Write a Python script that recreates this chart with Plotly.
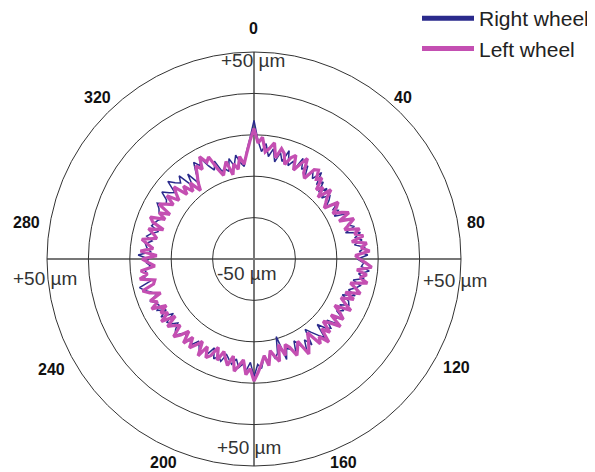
import plotly.graph_objects as go

# angles (deg, clockwise from top) every 2 degrees
theta = list(range(0, 360, 2))

# deviation in micrometres
left_wheel = [
    13, 6, 9, 2, 4, 7, 0, 5, 3, -2,
    2, 4, -3, 1, 5, -2, -4, 2, 3, -1,
    1, -5, -2, -7, 0, -4, -6, -8, -1, -3,
    -6, -2, 1, -5, 2, -1, -4, 3, 0, 4,
    -2, 5, 2, 6, -1, 1, 4, 7, 0, 5,
    2, 6, -2, 1, 4, -3, 2, -4, -1, 3,
    -5, -1, 2, -4, 3, -2, -5, 1, -3, 4,
    -1, 2, -6, -3, 0, 3, -5, -2, 1, -4,
    -6, -1, -7, 1, -2, -5, 2, -3, 1, 5,
    9, 3, 6, -1, 2, 5, -2, 3, 0, -3,
    2, -4, 1, 3, -2, 4, -3, 0, 3, -2,
    3, -3, 1, 4, -2, 0, 3, -3, 4, -1,
    2, -2, 5, 1, 4, -2, 3, 6, 0, -1,
    6, 2, 5, -2, 1, 4, -3, 5, -1, 2,
    5, -2, 0, 3, -4, 2, 4, -3, 1, -4,
    3, 0, -3, 2, -4, -1, 2, -5, -1, -6,
    -2, -8, -4, -1, 3, 0, 6, 2, 4, -3,
    -7, -4, -1, -8, -3, -6, 0, -4, 1, 7,
]

right_wheel = [
    17, 7, 2, 6, 0, 4, -2, 3, -1, 5,
    -2, 1, -3, 4, -1, 2, -4, 1, -2, 3,
    -3, 0, -5, -1, -6, -2, -4, -7, -1, -5,
    -3, -6, 0, -3, 2, -2, 1, -4, 3, 0,
    3, -1, 4, 1, 5, 0, 3, 2, 6, 1,
    4, -1, 3, 1, -2, 2, -4, 0, 1, -3,
    0, -3, 2, -2, 1, -4, 0, -2, -6, 1,
    -2, -5, -8, 0, -4, 1, -3, -6, 0, -3,
    -4, 1, -11, -3, -1, -5, 0, -3, 3, 1,
    7, 0, 4, 1, 3, -1, 2, 0, -2, 2,
    0, 2, -3, 1, -1, 3, 0, -2, 1, 0,
    2, -1, 0, 3, 1, -2, 1, 2, -3, 3,
    -1, 3, 1, 2, 4, 0, 2, 5, 7, 1,
    4, 2, 3, 0, 2, 1, 6, 0, 2, 3,
    0, 3, 1, -2, 2, 1, 0, -2, 1, 2,
    4, 0, 1, 5, 2, 0, 6, 3, 1, 4,
    -4, 2, -5, 0, 5, 2, 5, 0, -3, 1,
    -5, -4, -6, 0, -4, 1, -3, -5, 2, 8,
]

series_names = ["Right wheel", "Left wheel"]
series_colors = ["#2a2a8c", "#c44fb2"]

angle_labels = ["0", "40", "80", "120", "160", "200", "240", "280", "320"]
radial_labels = ["+50 µm", "+50 µm", "+50 µm", "+50 µm", "-50 µm"]

W, H = 595, 472
OFF = 8  # page body margin in the browser
FONT = "Liberation Sans, Arial, sans-serif"


def px(x):
    return (x - OFF) / W


def py(y):
    return 1 - (y - OFF) / H


fig = go.Figure()

# data traces (closed loops)
for name, vals, col, w in [
    (series_names[0], right_wheel, series_colors[0], 1.5),
    (series_names[1], left_wheel, series_colors[1], 3.2),
]:
    fig.add_trace(go.Scatterpolar(
        r=vals + [vals[0]], theta=theta + [360],
        mode="lines", line=dict(color=col, width=w),
        name=name, showlegend=False, hoverinfo="skip",
    ))

# legend entries with thick swatches
for name, col in zip(series_names, series_colors):
    fig.add_trace(go.Scatterpolar(
        r=[None], theta=[None], mode="lines", legendgroup=name,
        line=dict(color=col, width=5), name=name, showlegend=True,
    ))

# circle centre (254,259) px, radius 207 px (screen coordinates)
cx, cy, R = 254, 259, 207
fig.update_layout(
    width=W, height=H,
    margin=dict(l=0, r=0, t=0, b=0, autoexpand=False),
    paper_bgcolor="white", plot_bgcolor="white",
    font=dict(family=FONT, color="#222"),
    polar=dict(
        domain=dict(x=[px(cx - R), px(cx + R)],
                    y=[py(cy + R), py(cy - R)]),
        bgcolor="white",
        radialaxis=dict(range=[-50, 50], tickvals=[-30, -10, 10, 30],
                        showticklabels=False, ticks="", showline=False,
                        gridcolor="#333", gridwidth=1),
        angularaxis=dict(direction="clockwise", rotation=90,
                         tickvals=[0, 90, 180, 270], showticklabels=False,
                         ticks="", gridcolor="#777", gridwidth=1.5,
                         showline=True, linecolor="#333", linewidth=1),
    ),
    legend=dict(x=px(417), y=py(-2), xanchor="left", yanchor="top",
                font=dict(family=FONT, size=21, color="#222"),
                bgcolor="rgba(0,0,0,0)", tracegroupgap=0,
                itemwidth=52),
    showlegend=True,
)

# angle labels (bold)
angle_pos = [(253, 28), (403, 97), (476, 222), (456, 367), (343, 462),
             (163, 462), (51, 369), (26, 222), (97, 98)]
for txt, (x, y) in zip(angle_labels, angle_pos):
    fig.add_annotation(x=px(x), y=py(y), xref="paper", yref="paper",
                       xanchor="center", yanchor="middle",
                       text="<b>" + txt + "</b>", showarrow=False,
                       font=dict(family=FONT, size=16, color="#111"))

# radial scale labels
radial_pos = [(253, 60), (455, 280), (249, 447), (45, 278), (247, 273)]
for txt, (x, y) in zip(radial_labels, radial_pos):
    fig.add_annotation(x=px(x), y=py(y), xref="paper", yref="paper",
                       xanchor="center", yanchor="middle",
                       text=txt, showarrow=False,
                       font=dict(family=FONT, size=19, color="#333"))

fig.write_html("out.html")
